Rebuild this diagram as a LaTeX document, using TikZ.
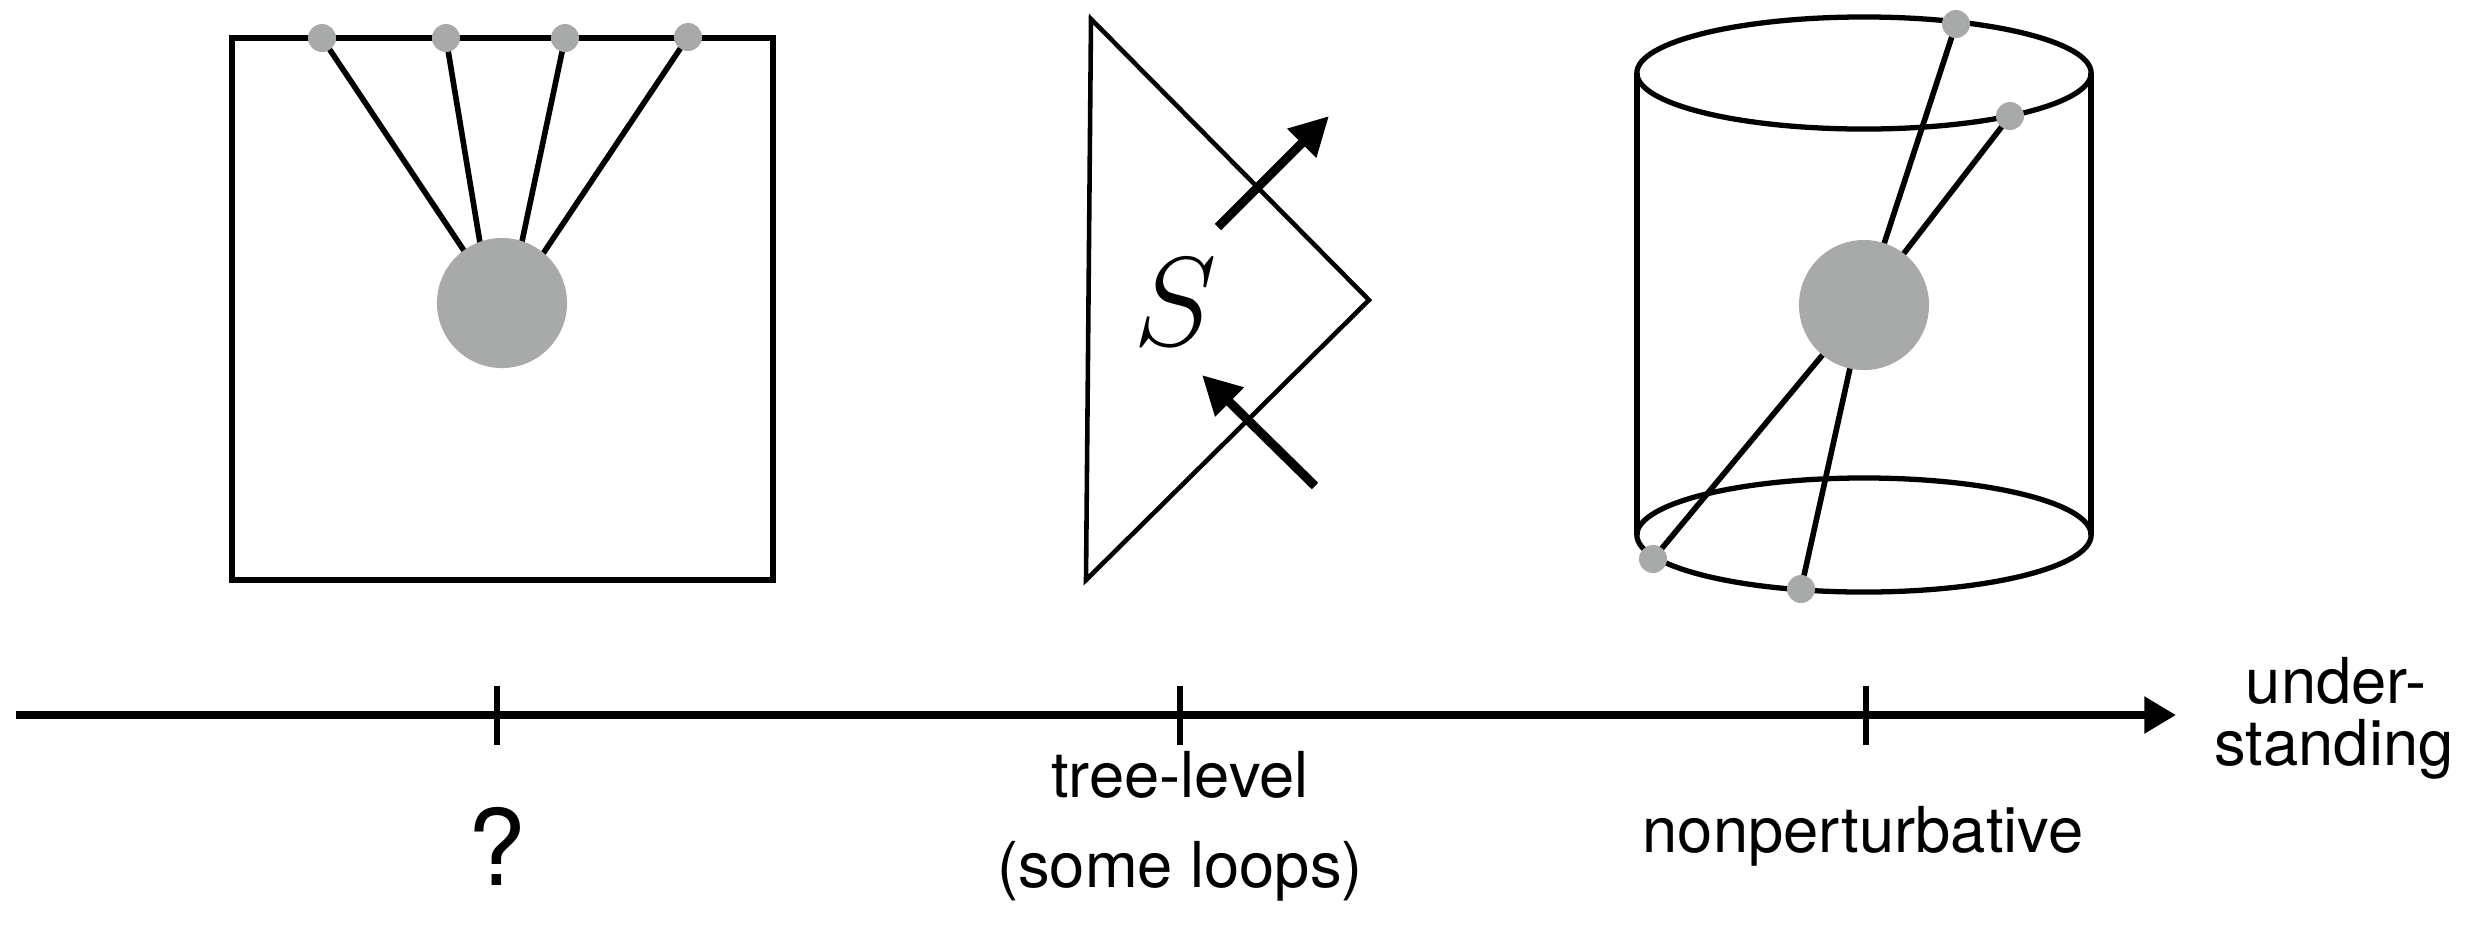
\RequirePackage{fix-cm}
\documentclass[tikz,border=0pt]{standalone}
\usepackage{fontspec}
\setmainfont{TeX Gyre Heros}
\usetikzlibrary{arrows.meta}
\definecolor{dotgray}{RGB}{167,170,169}
\begin{document}
\begin{tikzpicture}[x=0.01cm,y=-0.01cm,
  frame/.style={line width=1.7pt},
  leg/.style={line width=1.6pt},
  tri/.style={line width=1.3pt, line join=miter},
  arr/.style={line width=2.6pt, -{Triangle[length=11pt,width=11pt]}},
  cyl/.style={line width=1.5pt},
  axis/.style={line width=2.4pt, -{Triangle[length=9pt,width=10pt]}},
  tick/.style={line width=1.5pt},
  bigdot/.style={circle,fill=dotgray,minimum size=1.3cm,inner sep=0pt},
  smalldot/.style={circle,fill=dotgray,minimum size=0.28cm,inner sep=0pt},
  lab/.style={font=\fontsize{18}{22}\selectfont,anchor=base},
]
\useasboundingbox (0,0) rectangle (2490,929);

% ---------- left: square ----------
\draw[frame] (232,38) rectangle (773,580);
\coordinate (c1) at (502,303);
\coordinate (d1) at (322,38);
\coordinate (d2) at (446,38);
\coordinate (d3) at (565,38);
\coordinate (d4) at (688,37);
\coordinate (t1) at (499,303);
\coordinate (t2) at (490,303);
\coordinate (t3) at (509,303);
\coordinate (t4) at (510,303);
\draw[leg] (d1) -- (t1);
\draw[leg] (d2) -- (t2);
\draw[leg] (d3) -- (t3);
\draw[leg] (d4) -- (t4);
\node[bigdot] (core1) at (c1) {};
\node[smalldot] (p1) at (d1) {};
\node[smalldot] (p2) at (d2) {};
\node[smalldot] (p3) at (d3) {};
\node[smalldot] (p4) at (d4) {};

% ---------- middle: triangle ----------
\draw[tri] (1091,19) -- (1369,300) -- (1086,580) -- cycle;
\coordinate (a1s) at (1218,227);
\coordinate (a1e) at (1329,116);
\coordinate (a2s) at (1315,486);
\coordinate (a2e) at (1202,375);
\draw[arr] (a1s) -- (a1e);
\draw[arr] (a2s) -- (a2e);
\node[font=\fontsize{36}{40}\selectfont] (S) at (1175,302) {$S$};

% ---------- right: cylinder ----------
\coordinate (ctop) at (1864,73);
\coordinate (cbot) at (1864,535);
\draw[cyl] (ctop) ellipse [x radius=2.27cm, y radius=0.56cm];
\draw[cyl] (cbot) ellipse [x radius=2.27cm, y radius=0.57cm];
\draw[cyl] (1637,73) -- (1637,535);
\draw[cyl] (2091,73) -- (2091,535);
\coordinate (c2) at (1864,305);
\coordinate (e1) at (1956,24);
\coordinate (e2) at (2010,116);
\coordinate (e3) at (1653,559);
\coordinate (e4) at (1801,589);
\draw[leg] (e1) -- (c2);
\draw[leg] (e2) -- (c2);
\draw[leg] (e3) -- (c2);
\draw[leg] (e4) -- (c2);
\node[bigdot] (core2) at (c2) {};
\node[smalldot] (q1) at (e1) {};
\node[smalldot] (q2) at (e2) {};
\node[smalldot] (q3) at (e3) {};
\node[smalldot] (q4) at (e4) {};

% ---------- axis ----------
\coordinate (x0) at (16,715);
\coordinate (x1) at (2176,715);
\draw[axis] (x0) -- (x1);
\coordinate (k1a) at (497,686); \coordinate (k1b) at (497,745);
\coordinate (k2a) at (1180,686); \coordinate (k2b) at (1180,745);
\coordinate (k3a) at (1866,686); \coordinate (k3b) at (1866,745);
\draw[tick] (k1a) -- (k1b);
\draw[tick] (k2a) -- (k2b);
\draw[tick] (k3a) -- (k3b);

% ---------- labels ----------
\node[anchor=base, font=\fontsize{30}{36}\selectfont] (q) at (497,885) {?};
\node[lab] (tl1) at (1180,797) {tree-level};
\node[lab] (tl2) at (1180,887) {(some loops)};
\node[lab] (np) at (1863,852) {nonperturbative};
\node[lab] (u1) at (2336,703) {under-};
\node[lab] (u2) at (2334,765) {standing};
\end{tikzpicture}
\end{document}
